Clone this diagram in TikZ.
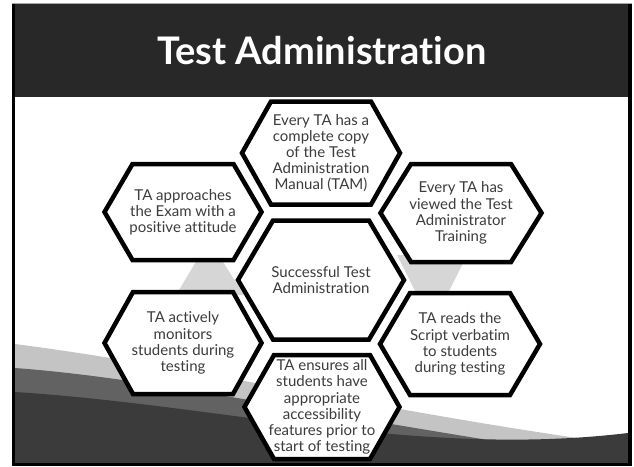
\documentclass[tikz,border=0pt]{standalone}
\usepackage{fontspec}
\setmainfont{Lato}[Ligatures={NoCommon,NoRequired,NoContextual}]
\definecolor{headbg}{HTML}{282828}
\definecolor{txtgray}{HTML}{3C3C3C}
\definecolor{lightband}{HTML}{C4C4C4}
\definecolor{midband}{HTML}{626262}
\definecolor{darkband}{HTML}{3B3B3B}
\definecolor{tri}{HTML}{D6D6D6}
\tikzset{
  hexline/.style={draw=black, line width=4.5pt, fill=white, line join=miter},
  hextext/.style={align=center, text=txtgray, font=\fontsize{15}{16.2}\selectfont, inner sep=0pt},
  titletext/.style={text=white, font=\fontsize{38}{44}\selectfont\bfseries, inner sep=0pt}
}
\newcommand{\hexcell}[7]{%
  \draw[hexline] (#2-#4,#3) -- (#2-#6,#3-#5) -- (#2+#6,#3-#5) -- (#2+#4,#3)
     -- (#2+#6,#3+#5) -- (#2-#6,#3+#5) -- cycle;
  \node[hextext] (#1) at (#2,#3) {#7};
}
\begin{document}
\begin{tikzpicture}[x=1pt,y=-1pt]
\useasboundingbox (0,0) rectangle (634,466);
% slide white area
\fill[white] (0,0) rectangle (634,466);
% background bands
\begin{scope}
\clip (15,97) rectangle (628,463);
\fill[lightband] (15,344) .. controls (200,368) and (420,418) .. (628,445) -- (628,463) -- (15,463) -- cycle;
\fill[midband] (15,368) .. controls (150,378) and (300,412) .. (628,462) -- (628,463) -- (15,463) -- cycle;
\fill[darkband] (15,392) .. controls (220,405) and (420,458) .. (628,433) -- (628,463) -- (15,463) -- cycle;
\end{scope}
% header
\fill[headbg] (15,4) rectangle (628,97);
\node[titletext] (title) at (322,51) {Test Administration};
% frame
\fill[black] (12,3) rectangle (15,466);
\fill[black] (628,3) rectangle (632,466);
\fill[black] (12,463) rectangle (632,466);
\fill[gray!70] (12,2.5) rectangle (632,4);
% connector triangles
\fill[tri] (209,240) -- (176,295) -- (244,295) -- cycle;
\fill[tri] (397,255) -- (467,255) -- (432,325) -- cycle;
% hexagons
\hexcell{tam}{321}{153}{79}{51.5}{50}{Every TA has a\\complete copy\\of the Test\\Administration\\Manual (TAM)}
\hexcell{attitude}{183}{212}{78.5}{48}{50.5}{TA approaches\\the Exam with a\\positive attitude}
\hexcell{training}{461}{213}{80.5}{49}{50}{Every TA has\\viewed the Test\\Administrator\\Training}
\hexcell{monitor}{183}{343}{78.5}{51}{50}{TA actively\\monitors\\students during\\testing}
\hexcell{script}{460}{344}{80}{51}{50}{TA reads the\\Script verbatim\\to students\\during testing}
\hexcell{access}{322}{407}{77.5}{52}{48}{TA ensures all\\students have\\appropriate\\accessibility\\features prior to\\start of testing}
\hexcell{center}{321}{280}{83}{59.5}{48}{Successful Test\\Administration}
\end{tikzpicture}
\end{document}
